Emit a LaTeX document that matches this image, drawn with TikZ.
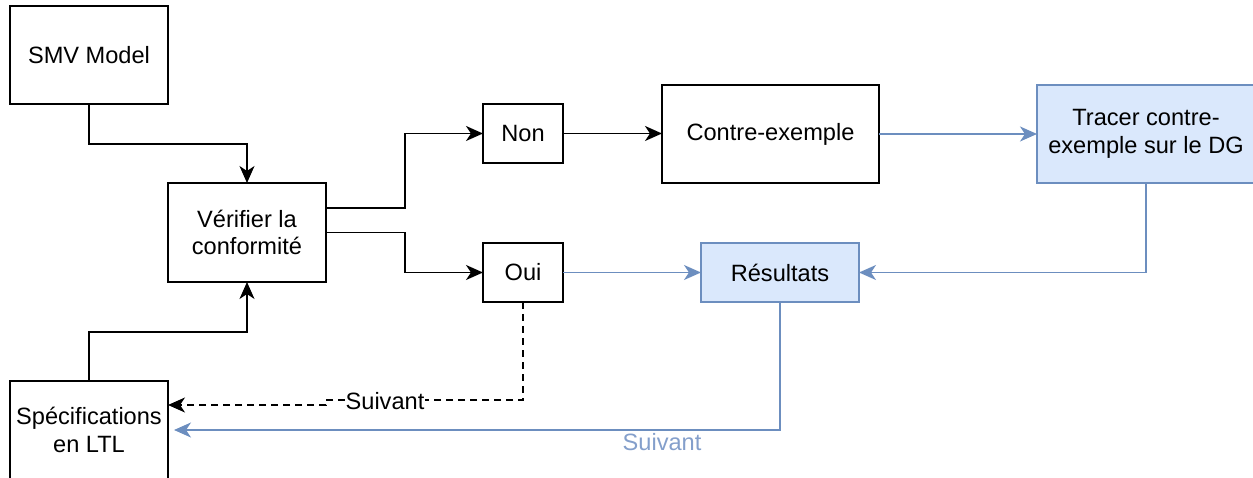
\documentclass[tikz,border=0pt]{standalone}
\usepackage{fontspec}
\setmainfont{Liberation Sans}
\usetikzlibrary{arrows.meta}
\definecolor{bstroke}{HTML}{6C8EBF}
\definecolor{bfill}{HTML}{DAE8FC}
\definecolor{blabel}{HTML}{849FCB}
\tikzset{
  box/.style={draw=black, line width=1.9pt, fill=white, inner sep=0pt, outer sep=0pt,
    align=center, font=\fontsize{23.6}{27.5}\selectfont},
  bluebox/.style={box, draw=bstroke, fill=bfill},
  arr/.style={line width=1.9pt, -{Stealth[length=17pt, width=15pt, inset=5pt]}},
  barr/.style={arr, draw=bstroke, -{Stealth[length=17pt, width=15pt, inset=5pt, color=bstroke]}},
  darr/.style={arr, dash pattern=on 7pt off 5pt},
  lbl/.style={font=\fontsize{23.6}{27.5}\selectfont, inner sep=1pt}
}
\begin{document}
\begin{tikzpicture}[x=1pt, y=-1pt]
\useasboundingbox (0,0) rectangle (1253,478);
% nodes
\node[box, minimum width=158pt, minimum height=98pt] (smv) at (89,55) {SMV Model};
\node[box, minimum width=158pt, minimum height=99pt] (ver) at (247,232.5) {Vérifier la\\conformité};
\node[box, minimum width=158pt, minimum height=98pt] (spec) at (89,430) {Spécifications\\en LTL};
\node[box, minimum width=80pt, minimum height=59pt] (non) at (523,133.5) {Non};
\node[box, minimum width=80pt, minimum height=59pt] (oui) at (523,272.5) {Oui};
\node[box, minimum width=217pt, minimum height=98pt] (ce) at (770.5,134) {Contre-exemple};
\node[bluebox, minimum width=218pt, minimum height=98pt] (tr) at (1146,134) {Tracer contre-\\exemple sur le DG};
\node[bluebox, minimum width=158pt, minimum height=59pt] (res) at (780,272.5) {Résultats};
% black connectors
\draw[arr] (smv.south) -- (89,144) -| (ver.north);
\draw[arr] (spec.north) -- (89,332) -| (ver.south);
\draw[arr] ([yshift=24.5pt]ver.east) -- (405,208) |- (non.west);
\draw[arr] (ver.east) -- (405,232.5) |- (oui.west);
\draw[arr] (non.east) -- (non.east -| ce.west);
% blue connectors
\draw[barr] (ce.east) -- (ce.east -| tr.west);
\draw[barr] (tr.south) |- (res.east);
\draw[barr] (oui.east) -- (res.west);
\draw[barr] (res.south) |- ([xshift=6pt]spec.east);
\node[lbl, text=blabel] (s2) at (662,442) {Suivant};
% dashed connector
\draw[darr] (oui.south) -- (523,400) -- (326,400) -- (326,405) -- ([yshift=25pt]spec.east);
\node[lbl, fill=white] (s1) at (385,401) {Suivant};
\end{tikzpicture}
\end{document}
